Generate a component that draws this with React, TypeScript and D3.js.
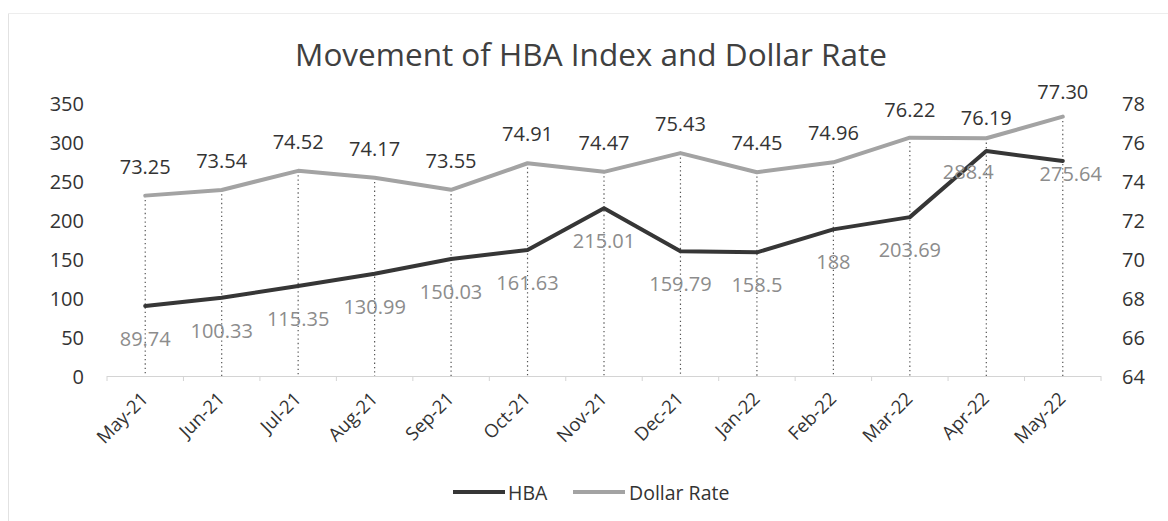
import { scaleBand, scaleLinear, line } from 'd3'

// Excel-style dual axis line chart: HBA index on the left, dollar rate on the right,
// dotted drop lines from each month down to the category axis.

const months = ['May-21', 'Jun-21', 'Jul-21', 'Aug-21', 'Sep-21', 'Oct-21', 'Nov-21', 'Dec-21', 'Jan-22', 'Feb-22', 'Mar-22', 'Apr-22', 'May-22']
const hba = [89.74, 100.33, 115.35, 130.99, 150.03, 161.63, 215.01, 159.79, 158.5, 188, 203.69, 288.4, 275.64]
const dollar = [73.25, 73.54, 74.52, 74.17, 73.55, 74.91, 74.47, 75.43, 74.45, 74.96, 76.22, 76.19, 77.3]
const hbaText = ['89.74', '100.33', '115.35', '130.99', '150.03', '161.63', '215.01', '159.79', '158.5', '188', '203.69', '288.4', '275.64']
const dollarText = ['73.25', '73.54', '74.52', '74.17', '73.55', '74.91', '74.47', '75.43', '74.45', '74.96', '76.22', '76.19', '77.30']
const leftTicks = [0, 50, 100, 150, 200, 250, 300, 350]
const rightTicks = [64, 66, 68, 70, 72, 74, 76, 78]

const FONT = '"Open Sans", "DejaVu Sans", sans-serif'
const DARK = '#363636'
const LIGHT = '#a3a3a3'
const TEXT = '#333333'
const MUTED = '#8c8c8c'

// a few labels sit off their default spot in the original
const hbaNudge: Record<string, [number, number]> = { 'Apr-22': [-18, -12], 'May-22': [8, -20] }
const dollarNudge: Record<string, [number, number]> = { 'Apr-22': [0, 9], 'May-22': [0, 4], 'Mar-22': [0, 1] }

export default function App() {
  const width = 1168
  const height = 521
  const plot = { left: 107, right: 1101, top: 103, bottom: 376 }

  const x = scaleBand().domain(months).range([plot.left, plot.right])
  const cx = (m: string) => (x(m) ?? 0) + x.bandwidth() / 2
  const yL = scaleLinear().domain([0, 350]).range([plot.bottom, plot.top])
  const yR = scaleLinear().domain([64, 78]).range([plot.bottom, plot.top])

  const hbaPath = line<number>()
    .x((_, i) => cx(months[i]))
    .y((d) => yL(d))(hba)
  const dollarPath = line<number>()
    .x((_, i) => cx(months[i]))
    .y((d) => yR(d))(dollar)

  const boundaries = [...months.map((m) => x(m) ?? 0), plot.right]

  return (
    <svg
      width={width}
      height={height}
      viewBox={`0 0 ${width} ${height}`}
      style={{ position: 'absolute', left: 0, top: 0, background: '#fff' }}
      fontFamily={FONT}
    >
      <rect x={0} y={0} width={width} height={height} fill="#fff" />
      <line x1={8.5} x2={8.5} y1={13} y2={height} stroke="#e2e2e2" strokeWidth={1} />
      <line x1={8} x2={width} y1={13.5} y2={13.5} stroke="#ededed" strokeWidth={1} />

      <text x={591} y={66} textAnchor="middle" fontSize={31.5} fill="#404040">
        Movement of HBA Index and Dollar Rate
      </text>

      {/* category axis */}
      <line x1={plot.left} x2={plot.right} y1={plot.bottom + 0.5} y2={plot.bottom + 0.5} stroke="#d4d4d4" strokeWidth={1} />
      {boundaries.map((b, i) => (
        <line key={i} x1={b} x2={b} y1={plot.bottom} y2={plot.bottom + 5} stroke="#d4d4d4" strokeWidth={1} />
      ))}

      {/* drop lines */}
      {months.map((m, i) => (
        <line
          key={m}
          x1={cx(m)}
          x2={cx(m)}
          y1={yR(dollar[i])}
          y2={plot.bottom}
          stroke="#555"
          strokeWidth={1.2}
          strokeDasharray="1.3 3"
        />
      ))}

      {dollarPath && <path d={dollarPath} fill="none" stroke={LIGHT} strokeWidth={4} strokeLinejoin="round" strokeLinecap="round" />}
      {hbaPath && <path d={hbaPath} fill="none" stroke={DARK} strokeWidth={4} strokeLinejoin="round" strokeLinecap="round" />}

      {/* value labels */}
      {months.map((m, i) => {
        const [dx, dy] = dollarNudge[m] ?? [0, 0]
        return (
          <text key={m} x={cx(m) + dx} y={yR(dollar[i]) - 22 + dy} textAnchor="middle" fontSize={20} fill={TEXT}>
            {dollarText[i]}
          </text>
        )
      })}
      {months.map((m, i) => {
        const [dx, dy] = hbaNudge[m] ?? [0, 0]
        return (
          <text key={m} x={cx(m) + dx} y={yL(hba[i]) + 40 + dy} textAnchor="middle" fontSize={20} fill={MUTED}>
            {hbaText[i]}
          </text>
        )
      })}

      {/* left axis */}
      {leftTicks.map((t) => (
        <text key={t} x={84} y={yL(t)} textAnchor="end" dominantBaseline="central" fontSize={20} fill={TEXT}>
          {t}
        </text>
      ))}
      {/* right axis */}
      {rightTicks.map((t) => (
        <text key={t} x={1122} y={yR(t)} textAnchor="start" dominantBaseline="central" fontSize={20} fill={TEXT}>
          {t}
        </text>
      ))}

      {/* month labels */}
      {months.map((m) => {
        const tx = cx(m) + 4
        const ty = plot.bottom + 24
        return (
          <text
            key={m}
            x={tx}
            y={ty}
            textAnchor="end"
            fontSize={18.5}
            fill={TEXT}
            transform={`rotate(-45, ${tx}, ${ty})`}
          >
            {m}
          </text>
        )
      })}

      {/* legend */}
      <line x1={453} x2={505} y1={492} y2={492} stroke={DARK} strokeWidth={4} />
      <text x={508} y={492} dominantBaseline="central" fontSize={19.5} fill={TEXT}>
        HBA
      </text>
      <line x1={573} x2={625} y1={492} y2={492} stroke={LIGHT} strokeWidth={4} />
      <text x={629} y={492} dominantBaseline="central" fontSize={19.5} fill={TEXT}>
        Dollar Rate
      </text>
    </svg>
  )
}
